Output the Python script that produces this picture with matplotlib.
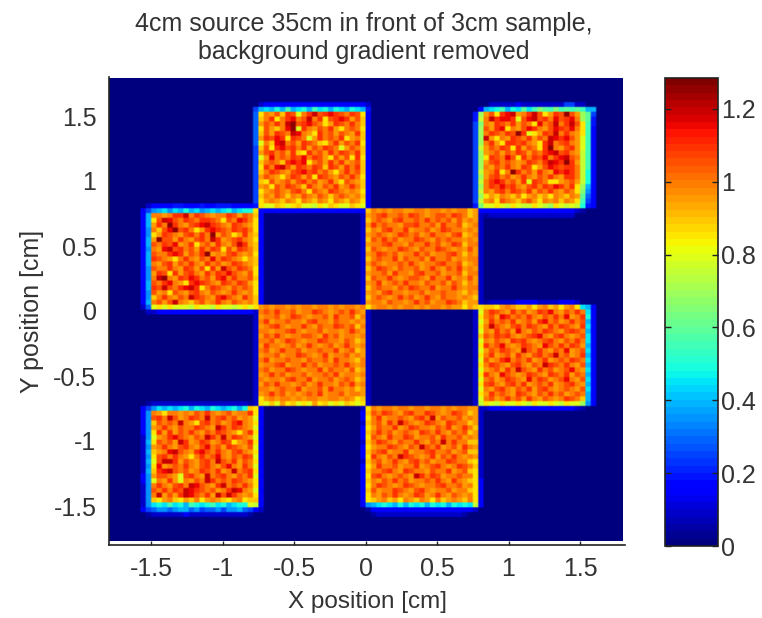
import numpy as np
import matplotlib
matplotlib.use('Agg')
import matplotlib.pyplot as plt
from matplotlib.ticker import FixedLocator

plt.rcParams['font.family'] = ['Liberation Sans', 'DejaVu Sans']

# Cell values, one character per cell.
# The position in NIVEIS times 0.05 gives the value (0 -> 0, k -> 1.0, p -> 1.25)
NIVEIS = "0123456789abcdefghijklmnop"

quad_sup_esq = [
    "0233333333333333333332",
    "5898a8b89a8b9a8a98a984",
    "6hkjlimlgkmolmnmlkmlh3",
    "6ikmhkmnklokmhlmnmjli3",
    "6jlkmkoplmnlkhjmlkmki3",
    "6hljiknpgmkjlkmjhklkh3",
    "6iljmlkonkjhmkljlkjmi3",
    "6jmlnmhmlkgjmklkmhjki3",
    "6gkinokljmlkihkmjlkmh3",
    "5ilhmnlmkmjlkmlkgjlki3",
    "5jlmkljmihmkljmkmlkmi3",
    "5gjnklkmlnkmljhljlhmh3",
    "5iklkimnmnhkljmkmjkli3",
    "5hmknoljmlkmlimljmkmi3",
    "5ikmlkjlmnlmkljhkmkli3",
    "5jlkjhkmljlhmlkjlkmkh3",
    "5ihljkljlmkljkmjhlkji3",
    "5jkhlkmlkimkjlkmjkmki3",
    "5hjklkjlmkhlkjmlkjkjh3",
    "5ikjlkikjlkjlkiklkjki3",
    "5hjkjikjhkjikjhkjikjh3",
    "4hggihghiggfhgihggihg3",
    "0233333333333333333332",
]
quad_sup_dir = [
    "000222223222222225522000",
    "0389ab8a9c9bdcbdbcbcb880",
    "4ejlhmnojkmolhjmlpljec50",
    "4fkomnnmglnolmknlmnkec40",
    "5dkjmlkmjlkhnklokmolhb40",
    "5eljmnhkjlnmkjlnmlnkhb30",
    "5ekmlkmlpmghjmlokmkjhb30",
    "5eojhkjmlkmjlkonmnljgb30",
    "5ekmjhmmlmkjhmoklmkjgb30",
    "5fjlkmlhmjlkhmpkjlmjgb30",
    "5ejkljlkmljlkmnolmkjfb30",
    "5ehmlknlhmkmlnkmnolkfb30",
    "5ejlmklkjkmlkmonmpmjfb30",
    "5ekjlkmkjmlhjlnmlmmkfb30",
    "5fjkmhkpmkljmkjnmnmkfa30",
    "5ejlmkljkmkjlkmkjmmkfa30",
    "5fkmnmkljmgmlkhhjkljfa30",
    "5ekmlnlmkjlmkmlnmkmhe830",
    "5fkjlmkmlkmjlkmkjlkhd730",
    "5ehjikjikhjkijhkjikjc630",
    "5fjkhlkjikljhkjkikjhb530",
    "4dgghgfhgffhgfehgfgfa430",
    "0333333333333333333210",
    "0012222222222222222000",
]
quad_esq_2 = [
    "002333344333433444333320",
    "035789798a8978989a89aah3",
    "038kkjkmmokmlkjkkmljlki3",
    "038hlonlkmlkmmlkhlknmkh3",
    "038jmkpmkjlmnomlkjmlkjh3",
    "037kilnplmkhjmnmlkmlmkh3",
    "037hjmlkjlmkmkpjlkhjmji3",
    "038jplljmkjlmkomjklmkjh3",
    "038lkmlnjkmhkljmkjlomji3",
    "037kjnolmkljmkmlhljmlki3",
    "038lkkmnmjlkmpjkjlmkjkh3",
    "038mlkjhkmkjlknkmlkjhji3",
    "038kjlmjlkmkjmkljkmlkji3",
    "037lkkmkjmljlhmjolkmlkh3",
    "037jmlhmjlmkjmkmlnlkjlh3",
    "037kopkjmlnmkljmnkmkkli3",
    "038lkmnkjhmnmlkjmlkmljh3",
    "038mlolkmnomhkmlkjlklkh3",
    "037ljkhlkjlmkjlkjkmkjkh3",
    "037ikmkjlkomlkjmnlkjmki3",
    "038kljlokjikljkmkjlkjki3",
    "026ghghgggfhggfhggfghgh3",
    "002233333333333333333320",
]
quad_centro_dir = [
    "00000000000000000000000",
    "2ikjkjkkjjkkjkkjkjkkij2",
    "2jklmkklkmlkjkllkmlkij2",
    "2iklkjlmkklkmklkljljkj2",
    "2jmklkkjllmkkljmkklijk2",
    "2ikjlmkkmjkkljkmlkkjkj2",
    "2jklkjkmlkljkmkkjlmijk2",
    "2ilkmkljkkmlkjlklkkjkj2",
    "2jkklmkkjlkkmkljkmlikk2",
    "2ilkjkkmlkjlkkmlkjkjlj2",
    "2jkmlkljkkmkljkklmkikj2",
    "2iklkkmjlkkljmkkljkjkk2",
    "2jlkjkklkmkjkklmkklijk2",
    "2ikmlkjlkkljkmkjlkmjkj2",
    "2jkkljmkkjlmkkljkklikk2",
    "2ilkkmkjkllkjmkkmjkjlj2",
    "2jkmjklkmkkjlkkljlkikj2",
    "2iklkkjlkmlkkmjkkmkjkk2",
    "2jkjlmkkjkkljkklkkjikj2",
    "2iklkjkmkljkmkjlkkjkji2",
    "2jkkjlkkjkmkljkkmlkijj2",
    "2hjkkjkjkkjkjkkjkjjhji2",
    "00000000000000000000000",
]
quad_centro_esq = [
    "0000000000000000000000",
    "2jkjkkjkjkkjkkjkjkkjk2",
    "2klkmkkljkkmlkjklkmkj2",
    "2jkkljkmlkjkkljmkklik2",
    "2kmjkklkkjlmkkjlkkjkj2",
    "2jklmkjkkmkjlkkmlklik2",
    "2kkjkklmkjkkljkkjkmkj2",
    "2jlkmkjkkllkjmkljkkjk2",
    "2kkljkmlkjkkmlkkjlkij2",
    "2jmkkjkljkmkjkljkmkjk2",
    "2kljkmkkljkklkkmjklij2",
    "2jkkljkkmlkjkmjkkljkj2",
    "2kmjkklkkjlkkljmkkjik2",
    "2jkklmjkkmkljkklkmkjk2",
    "2kljkkmlkjkkmjlkkjlij2",
    "2jkmkljkkljkklkmjkkjk2",
    "2kjkkjlmkkmjkkljklkij2",
    "2jlkmkkjkljkmkkjlkmjk2",
    "2kkjklkkmjkkljmkkjkij2",
    "2jkmkljkjklkmjkkljkkj2",
    "2hjkjkkjkjkkjjkkjkjhi2",
    "2hgigjhighgjhighgihgh2",
    "0000000000000000000000",
]
quad_dir_2 = [
    "00122222333322223332000",
    "2hiihjkjiijhjkijhjkh983",
    "2gkmlkjmkljkmlnkjlkmk93",
    "2hkljnmklkmkjlkmknjkma3",
    "2gjmklkmjkljmnkljkmkl83",
    "2hkolkjlmkmlkjmkmlkjm93",
    "2gkjmkljnkjlkmlkjlmlk83",
    "2ilkmlmkjklmnkjlmkjkl93",
    "2gkjlkjmlmkjklmkjlkmk93",
    "2hmklnkjkmlkjnlkmkmlj83",
    "2gjlkmlkjolkmkjlknjkl93",
    "2hkmjkljmkjlmklokljkm83",
    "2gljkmnklkmjkmjklkmlk93",
    "2hkmlkjlmkjlkomlkmkjl83",
    "2gjkljmkolkjmkljklnkj93",
    "2hmkjnlkjkmlkjmlkmjlk83",
    "2gkljkmlkjnkmljklnkjl93",
    "2hlmkjlmkmjklkmjklmkj83",
    "2gkjlmkjlkmjlmkjklkjl93",
    "2hjmklkjmlkjlkmkljklk83",
    "2gkljkmkljmkjlkjkmlki83",
    "2fhgfhgghgfhgghgfhgge73",
    "0123333333333333333210",
]
quad_inf_esq = [
    "001222222222222222222100",
    "035798989a8a98a989a8aih3",
    "037kjhkkjkjlkmkjkljkkmh3",
    "037lmkoljkmlkoklmkljkjg3",
    "037ilklkokjhlmkljkmnkjh3",
    "037jkmkjlkkmlkjomkmlkjg3",
    "037hmjmjlkmkjlkmlkjhkmh3",
    "027gjkmnlkjlkomkokmlkjg3",
    "028hlkljomjkmljkmlhjkmh3",
    "027jkmkjlmkjlnkljmlkjlg3",
    "028ijknolkjmnlkmkjlmkjh3",
    "027hlmkmkjhkmklnkjlkmlg3",
    "028gloomjlkjlmkolkmjlkh3",
    "027hnjklkmkjlmkjlnkjmkg3",
    "028imnolkljkmlkmjkoklmh3",
    "037jllkjglmkjoklmkjlkmg3",
    "037gkjmjgkjlkomklkmlkjh3",
    "027kmkjlmkonlkjmoklkmkh3",
    "027lkmkmlonmlkljkmonkjg3",
    "027kojljmonlkmjolomkjkh3",
    "027ihjkihjikhjkjihjkhii3",
    "0279a9b9a8ba9ab9a89aagf3",
    "035677678867566757786532",
    "001222222322222222222100",
]
quad_inf_dir = [
    "00000000000000000000000",
    "2hkjkkjkkjkkjkkjkjkkjj2",
    "3ilkmlkjlmkkmlkjkmlkij2",
    "3hkmjkklkjlmkojlkkljkj2",
    "2ikljmkolkjkmlkjmlkkij2",
    "3hjlkkmjkmlkkjlkmjkmki2",
    "3ikmkljklkjmlkmkjlklij2",
    "3hlkjmkkmljkkljmkkljkj2",
    "2ikmlkjlkkmkjlkokmkkii2",
    "3hjkkmlkjlkolkmjkljmkj2",
    "3iklmjkkmjkklmkkljklii2",
    "3hmkjlkomlkjkmjlkmkjkj2",
    "2ikljkmkjlmkljkkmlkkih2",
    "3hjmkkljkkmjklmkjkmlki2",
    "3ikklmkjmlkkjlkkmjklih2",
    "3hlmkjklkjomkmljkklkkh2",
    "3ikjlkmkljkklkmkjmkjih3",
    "3hkmlkjkmlkjkklmkkljkh3",
    "3iljkkmlkjlmkjkkljkkih3",
    "3hkjlkmkjkmljkmkjlkjkh3",
    "3hijkijhkjikjhkijkjikh3",
    "3789a98a8a9a8a9a8a9a9f3",
    "0133333333333333333332",
    "0012222222222222222100",
]

# Order of the squares, left to right and top to bottom, with the grid cell of their corner
quadrados = [quad_sup_esq, quad_sup_dir, quad_esq_2, quad_centro_dir,
             quad_centro_esq, quad_dir_2, quad_inf_esq, quad_inf_dir]
linhas_inicio = [5, 5, 26, 26, 46, 46, 67, 67]
colunas_inicio = [27, 68, 5, 47, 27, 68, 5, 47]

x_ticks = [-1.5, -1, -0.5, 0, 0.5, 1, 1.5]
y_ticks = [-1.5, -1, -0.5, 0, 0.5, 1, 1.5]
x_labels = ['-1.5', '-1', '-0.5', '0', '0.5', '1', '1.5']
y_labels = ['-1.5', '-1', '-0.5', '0', '0.5', '1', '1.5']
cb_ticks = [0, 0.2, 0.4, 0.6, 0.8, 1, 1.2]
cb_labels = ['0', '0.2', '0.4', '0.6', '0.8', '1', '1.2']

# ------------------------------
# Monta a imagem
mapa = np.zeros((96, 96))
for quad, l0, c0 in zip(quadrados, linhas_inicio, colunas_inicio):
    for i, linha in enumerate(quad):
        for j, ch in enumerate(linha):
            mapa[l0 + i, c0 + j] = max(mapa[l0 + i, c0 + j], NIVEIS.index(ch) * 0.05)

# cells stay visible, only the edges get soft
mapa_fino = np.repeat(np.repeat(mapa, 3, axis=0), 3, axis=1)

W, H = 762, 618
fig = plt.figure(figsize=(W / 100, H / 100), dpi=100)
cor_texto = '#333333'
cor_eixo = '#222222'

ax = fig.add_axes([109 / W, 1 - 545 / H, 516 / W, 468 / H])
im = ax.imshow(mapa_fino, cmap=plt.get_cmap('jet', 64), vmin=0, vmax=1.285,
               extent=[-1.8, 1.8, -1.77, 1.785], aspect='auto', interpolation='bilinear', zorder=2)
ax.set_xlim(-1.795, 1.815)
ax.set_ylim(-1.8, 1.8)
for lado in ['top', 'right']:
    ax.spines[lado].set_visible(False)
for lado in ['left', 'bottom']:
    ax.spines[lado].set_color(cor_eixo)
    ax.spines[lado].set_linewidth(1.2)
ax.set_xticks(x_ticks, x_labels)
ax.set_yticks(y_ticks, y_labels)
ax.tick_params(direction='in', length=3, width=1, color=cor_eixo, labelcolor=cor_texto,
               labelsize=18, pad=9)
ax.set_xlabel('X position [cm]', fontsize=17.5, color=cor_texto, labelpad=7)
ax.set_ylabel('Y position [cm]', fontsize=18, color=cor_texto, labelpad=7)

fig.text(364 / W, 1 - 38 / H, '4cm source 35cm in front of 3cm sample,\nbackground gradient removed',
         ha='center', va='center', fontsize=18, color=cor_texto, linespacing=1.2)

# ------------------------------
# Barra de cores
cax = fig.add_axes([665 / W, 1 - 546 / H, 53 / W, 468 / H])
cb = fig.colorbar(im, cax=cax)
cb.ax.yaxis.set_major_locator(FixedLocator(cb_ticks))
cb.ax.set_yticklabels(cb_labels)
cb.ax.tick_params(axis='y', direction='in', left=True, right=True, length=4, width=1,
                  color=cor_eixo, labelcolor=cor_texto, labelsize=18, pad=2)
cb.outline.set_edgecolor(cor_eixo)
cb.outline.set_linewidth(1.2)

fig.savefig('out.png', dpi=100)
